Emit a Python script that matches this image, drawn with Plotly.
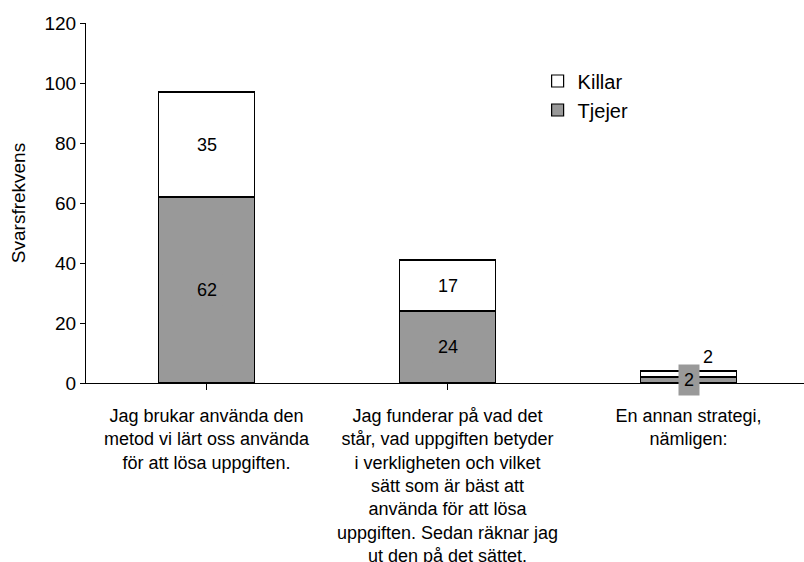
import plotly.graph_objects as go

# Answer categories (x axis), one wrapped label per strategy
categories = [
    "Jag brukar använda den<br>metod vi lärt oss använda<br>för att lösa uppgiften.",
    "Jag funderar på vad det<br>står, vad uppgiften betyder<br>i verkligheten och vilket<br>sätt som är bäst att<br>använda för att lösa<br>uppgiften. Sedan räknar jag<br>ut den på det sättet.",
    "En annan strategi,<br>nämligen:",
]
tjejer = [62, 24, 2]
killar = [35, 17, 2]

y_ticks = [0, 20, 40, 60, 80, 100, 120]

FONT = "Liberation Sans, Arial, sans-serif"
GREY = "#999999"
idx = list(range(len(categories)))

fig = go.Figure()
fig.add_trace(go.Bar(
    x=idx, y=tjejer, name="Tjejer",
    marker=dict(color=GREY, line=dict(color="black", width=1.2)),
    width=0.4,
))
fig.add_trace(go.Bar(
    x=idx, y=killar, name="Killar",
    marker=dict(color="white", line=dict(color="black", width=1.2)),
    width=0.4,
))

# Value labels: centred in each segment; a segment too thin for its label
# gets the label lifted above and to the right of the bar.
annotations = []
for i, (t, k) in enumerate(zip(tjejer, killar)):
    annotations.append(dict(
        x=i, y=t / 2, text=str(t), showarrow=False,
        font=dict(size=18, color="black", family=FONT),
        bgcolor=GREY, borderpad=5,
    ))
    thin = k < 6
    annotations.append(dict(
        x=i, y=t + k / 2, text=str(k), showarrow=False,
        font=dict(size=18, color="black", family=FONT),
        xshift=19 if thin else 0, yshift=17 if thin else 0,
    ))

fig.update_layout(
    width=804, height=562,
    margin=dict(l=86, r=0, t=23, b=179, autoexpand=False),
    paper_bgcolor="white", plot_bgcolor="white",
    barmode="stack", bargap=0.6,
    font=dict(family=FONT, size=19, color="black"),
    showlegend=True,
    legend=dict(
        x=0.629, y=0.893, xanchor="left", yanchor="top",
        traceorder="reversed", bgcolor="rgba(0,0,0,0)",
        font=dict(size=20, family=FONT), itemwidth=30,
    ),
    annotations=annotations,
    xaxis=dict(
        range=[-0.5, 2.479], tickmode="array", tickvals=idx, ticktext=categories,
        tickson="boundaries", ticks="outside", ticklen=6, tickcolor="black",
        ticklabelstandoff=10,
        showline=True, linecolor="black", linewidth=1.2,
        showgrid=False, zeroline=False, automargin=False,
        tickfont=dict(size=18, family=FONT),
    ),
    yaxis=dict(
        range=[0, 120], tickmode="array", tickvals=y_ticks,
        ticks="outside", ticklen=5, tickcolor="black",
        showline=True, linecolor="black", linewidth=1.2,
        showgrid=False, zeroline=False, automargin=False,
        tickfont=dict(size=19, family=FONT),
        title=dict(text="Svarsfrekvens", font=dict(size=19, family=FONT), standoff=13),
    ),
)

fig.write_html("out.html")
